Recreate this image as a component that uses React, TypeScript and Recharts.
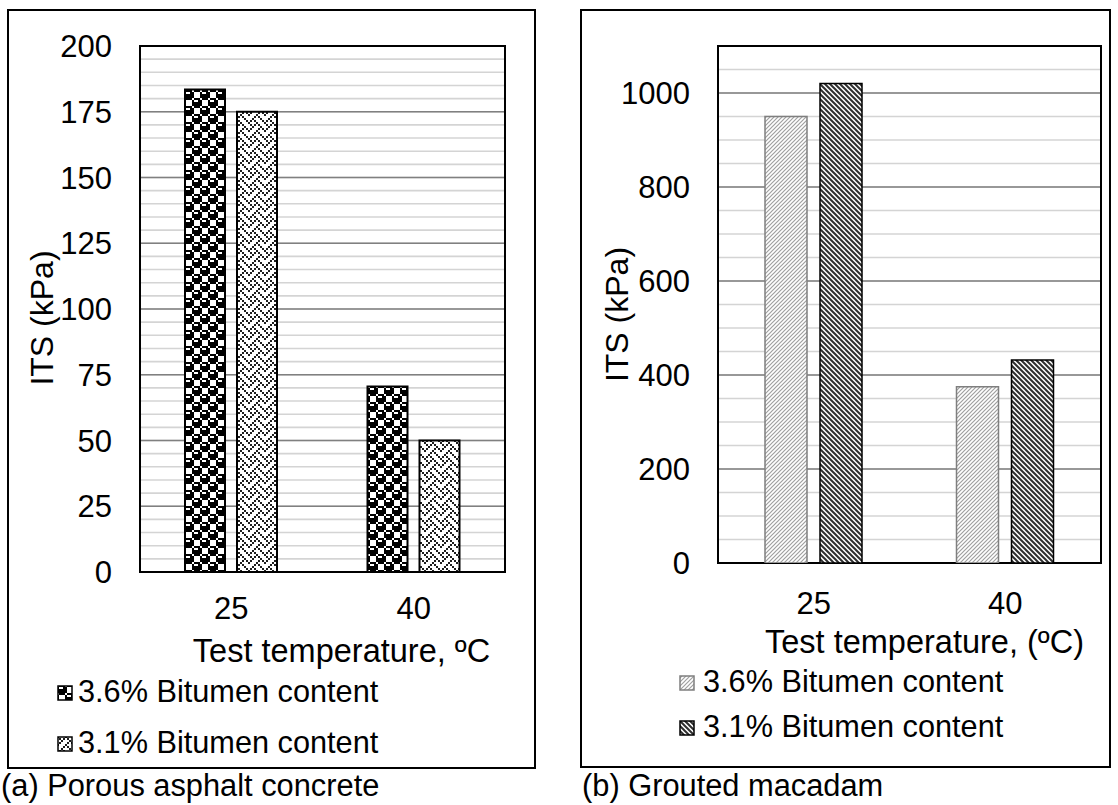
import React from 'react';
import { BarChart, Bar, XAxis, YAxis, CartesianGrid, Legend, ReferenceArea } from 'recharts';

// test temperature categories (°C)
const temperatures = ['25', '40'];
const seriesNames = ['3.6% Bitumen content', '3.1% Bitumen content'];

// (a) porous asphalt concrete, ITS in kPa
const porousBitumen36 = [183.5, 70.5];
const porousBitumen31 = [175, 50];
const porousTicks = [0, 25, 50, 75, 100, 125, 150, 175, 200];
const porousMinorTicks = [
  0, 5, 10, 15, 20, 25, 30, 35, 40, 45, 50, 55, 60, 65, 70, 75, 80, 85, 90, 95, 100,
  105, 110, 115, 120, 125, 130, 135, 140, 145, 150, 155, 160, 165, 170, 175, 180, 185, 190, 195, 200,
];

// (b) grouted macadam, ITS in kPa
const groutedBitumen36 = [950, 375];
const groutedBitumen31 = [1020, 432];
const groutedTicks = [0, 200, 400, 600, 800, 1000];
const groutedMinorTicks = [
  0, 50, 100, 150, 200, 250, 300, 350, 400, 450, 500, 550, 600, 650, 700, 750, 800, 850, 900, 950, 1000,
  1050, 1100,
];

const FONT = '"Liberation Sans", Arial, Helvetica, sans-serif';
const MAJOR_GRID = '#808080';
const MINOR_GRID = '#d4d4d4';

const buildRows = (a: number[], b: number[]) =>
  temperatures.map((t, i) => ({ temp: t, b36: a[i], b31: b[i] }));

const porousData = buildRows(porousBitumen36, porousBitumen31);
const groutedData = buildRows(groutedBitumen36, groutedBitumen31);

// office-style 8x8 hatch bitmaps (one byte per row, msb on the left)
const SPHERE_BITS = [0x77, 0x98, 0xf8, 0xf8, 0x77, 0x89, 0x8f, 0x8f];
const WEAVE_BITS = [0x88, 0x54, 0x22, 0x45, 0x88, 0x14, 0x22, 0x51];

function BitmapPattern({ id, bits, cell, color }: { id: string; bits: number[]; cell: number; color: string }) {
  const size = cell * 8;
  const rects: React.ReactNode[] = [];
  bits.forEach((row, r) => {
    for (let c = 0; c < 8; c++) {
      if (row & (0x80 >> c)) {
        rects.push(<rect key={`${r}-${c}`} x={c * cell} y={r * cell} width={cell} height={cell} fill={color} />);
      }
    }
  });
  return (
    <pattern id={id} width={size} height={size} patternUnits="userSpaceOnUse">
      <rect width={size} height={size} fill="#fff" />
      {rects}
    </pattern>
  );
}

function Patterns() {
  return (
    <svg width={0} height={0} style={{ position: 'absolute' }}>
      <defs>
        <BitmapPattern id="spheres" bits={SPHERE_BITS} cell={2} color="#000" />
        <BitmapPattern id="weave" bits={WEAVE_BITS} cell={2} color="#1e1e1e" />
        <pattern id="hatchLight" width={4} height={4} patternUnits="userSpaceOnUse">
          <rect width={4} height={4} fill="#fff" />
          <path d="M-1,1 l2,-2 M0,4 l4,-4 M3,5 l2,-2" stroke="#a0a0a0" strokeWidth={1.2} />
        </pattern>
        <pattern id="hatchDark" width={5} height={5} patternUnits="userSpaceOnUse">
          <rect width={5} height={5} fill="#fff" />
          <path d="M-1,4 l2,2 M0,0 l5,5 M4,-1 l2,2" stroke="#2e2e2e" strokeWidth={2} />
        </pattern>
      </defs>
    </svg>
  );
}

interface LegendRow {
  label: string;
  fill: string;
  stroke: string;
}

function PatternLegend({
  rows,
  rowCenters,
  iconLeft,
  textLeft,
  height,
}: {
  rows: LegendRow[];
  rowCenters: number[];
  iconLeft: number;
  textLeft: number;
  height: number;
}) {
  return (
    <div style={{ position: 'relative', height, fontFamily: FONT, fontSize: 30.7, color: '#000' }}>
      {rows.map((r, i) => (
        <div key={r.label} style={{ position: 'absolute', top: rowCenters[i] - 17, left: 0, height: 34 }}>
          <svg width={16} height={16} style={{ position: 'absolute', left: iconLeft, top: 10 }}>
            <rect x={1} y={1} width={14} height={14} fill={r.fill} stroke={r.stroke} strokeWidth={1.5} />
          </svg>
          <span
            style={{ position: 'absolute', left: textLeft, top: 0, lineHeight: '34px', whiteSpace: 'nowrap' }}
          >
            {r.label}
          </span>
        </div>
      ))}
    </div>
  );
}

const yTitle = (baseX: number, shiftY: number) => (props: any) => {
  const vb = props.viewBox || { x: 0, y: 0, width: 0, height: 0 };
  const cx = vb.x + baseX;
  const cy = vb.y + vb.height / 2 + shiftY;
  return (
    <text transform={`translate(${cx},${cy}) rotate(-90)`} textAnchor="middle" fontSize={32} fill="#000">
      ITS (kPa)
    </text>
  );
};

const xTitle = (text: string, shiftX: number, below: number) => (props: any) => {
  const vb = props.viewBox || { x: 0, y: 0, width: 0, height: 0 };
  return (
    <text x={vb.x + vb.width / 2 + shiftX} y={vb.y + below} textAnchor="middle" fontSize={32.5} fill="#000">
      {text}
    </text>
  );
};

interface PanelProps {
  data: { temp: string; b36: number; b31: number }[];
  width: number;
  height: number;
  yWidth: number;
  rightMargin: number;
  domainMax: number;
  ticks: number[];
  minorTicks: number[];
  fills: [string, string];
  strokes: [string, string];
  strokeWidth: number;
  barSize: number;
  barGap: number;
  tickMarginX: number;
  xLabel: string;
  xLabelShift: number;
  yLabelX: number;
  yLabelShift: number;
  legendHeight: number;
  legendCenters: number[];
  legendIconLeft: number;
  legendTextLeft: number;
}

function Panel(p: PanelProps) {
  const xAxisHeight = 90;
  const legendRows: LegendRow[] = seriesNames.map((name, i) => ({
    label: name,
    fill: p.fills[i],
    stroke: p.strokes[i],
  }));
  return (
    <BarChart
      width={p.width}
      height={p.height}
      data={p.data}
      margin={{ top: 36, right: p.rightMargin, left: 0, bottom: 0 }}
      barGap={p.barGap}
      barSize={p.barSize}
      style={{ fontFamily: FONT }}
    >
      <CartesianGrid vertical={false} horizontalValues={p.minorTicks} stroke={MINOR_GRID} strokeWidth={1.6} />
      <CartesianGrid vertical={false} horizontalValues={p.ticks} stroke={MAJOR_GRID} strokeWidth={1.4} />
      <XAxis
        dataKey="temp"
        height={xAxisHeight}
        axisLine={false}
        tickLine={false}
        tickSize={0}
        tickMargin={p.tickMarginX}
        tick={{ fill: '#000', fontSize: 31 }}
        label={xTitle(p.xLabel, p.xLabelShift, xAxisHeight)}
      />
      <YAxis
        width={p.yWidth}
        domain={[0, p.domainMax]}
        allowDataOverflow
        ticks={p.ticks}
        interval={0}
        axisLine={false}
        tickLine={false}
        tickSize={0}
        tickMargin={28}
        tick={{ fill: '#000', fontSize: 31 }}
        label={yTitle(p.yLabelX, p.yLabelShift)}
      />
      <Bar
        dataKey="b36"
        name={seriesNames[0]}
        fill={p.fills[0]}
        stroke={p.strokes[0]}
        strokeWidth={p.strokeWidth}
        isAnimationActive={false}
      />
      <Bar
        dataKey="b31"
        name={seriesNames[1]}
        fill={p.fills[1]}
        stroke={p.strokes[1]}
        strokeWidth={p.strokeWidth}
        isAnimationActive={false}
      />
      <ReferenceArea y1={0} y2={p.domainMax} fill="none" fillOpacity={0} stroke="#000" strokeWidth={2} />
      <Legend
        verticalAlign="bottom"
        align="left"
        layout="horizontal"
        wrapperStyle={{
          left: 0,
          top: p.height - p.legendHeight,
          bottom: 'auto',
          width: p.width,
          height: p.legendHeight,
        }}
        content={() => (
          <PatternLegend
            rows={legendRows}
            rowCenters={p.legendCenters}
            iconLeft={p.legendIconLeft}
            textLeft={p.legendTextLeft}
            height={p.legendHeight}
          />
        )}
      />
    </BarChart>
  );
}

const boxStyle: React.CSSProperties = {
  position: 'absolute',
  border: '2px solid #000',
  boxSizing: 'border-box',
};

const captionStyle: React.CSSProperties = {
  position: 'absolute',
  fontSize: 30.8,
  lineHeight: '34px',
  whiteSpace: 'nowrap',
  color: '#000',
};

export default function App() {
  return (
    <div
      style={{
        position: 'absolute',
        left: 0,
        top: 0,
        width: 1118,
        height: 805,
        background: '#fff',
        fontFamily: FONT,
        overflow: 'hidden',
      }}
    >
      <Patterns />
      <div style={{ ...boxStyle, left: 7, top: 9, width: 529, height: 760 }} />
      <div style={{ ...boxStyle, left: 580, top: 9, width: 531, height: 759 }} />

      <div style={{ position: 'absolute', left: 8, top: 10 }}>
        <Panel
          data={porousData}
          width={527}
          height={758}
          yWidth={132}
          rightMargin={30}
          domainMax={200}
          ticks={porousTicks}
          minorTicks={porousMinorTicks}
          fills={['url(#spheres)', 'url(#weave)']}
          strokes={['#000', '#000']}
          strokeWidth={2}
          barSize={40}
          barGap={12}
          tickMarginX={25}
          xLabel="Test temperature, ºC"
          xLabelShift={19}
          yLabelX={45}
          yLabelShift={9}
          legendHeight={106}
          legendCenters={[30, 81]}
          legendIconLeft={49}
          legendTextLeft={70}
        />
      </div>

      <div style={{ position: 'absolute', left: 581, top: 10 }}>
        <Panel
          data={groutedData}
          width={529}
          height={757}
          yWidth={137}
          rightMargin={9}
          domainMax={1100}
          ticks={groutedTicks}
          minorTicks={groutedMinorTicks}
          fills={['url(#hatchLight)', 'url(#hatchDark)']}
          strokes={['#7f7f7f', '#000']}
          strokeWidth={1.5}
          barSize={42}
          barGap={13}
          tickMarginX={29}
          xLabel="Test temperature, (ºC)"
          xLabelShift={15}
          yLabelX={47}
          yLabelShift={10}
          legendHeight={114}
          legendCenters={[29, 74]}
          legendIconLeft={98}
          legendTextLeft={122}
        />
      </div>

      <div style={{ ...captionStyle, left: 1, top: 769 }}>(a) Porous asphalt concrete</div>
      <div style={{ ...captionStyle, left: 582, top: 769 }}>(b) Grouted macadam</div>
    </div>
  );
}
